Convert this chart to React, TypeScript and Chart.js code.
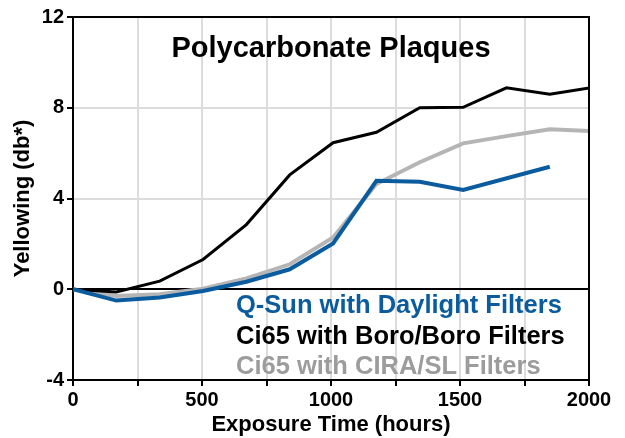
import React, { useEffect, useRef } from "react";
import { Chart, registerables } from "chart.js";

Chart.register(...registerables);

const hours = [0, 168, 336, 504, 672, 840, 1008, 1176, 1344, 1512, 1680, 1848, 2016];
const qsunDaylight = [0, -0.5, -0.36, -0.08, 0.33, 0.88, 2.02, 4.78, 4.74, 4.38, null, 5.4, null];
const ci65BoroBoro = [0, -0.12, 0.36, 1.31, 2.85, 5.04, 6.46, 6.92, 8.0, 8.02, 8.88, 8.6, 8.9];
const ci65CiraSl = [0, -0.3, -0.22, 0.02, 0.48, 1.1, 2.28, 4.64, 5.6, 6.43, 6.75, 7.05, 6.97];

const seriesLabels = [
  "Q-Sun with Daylight Filters",
  "Ci65 with Boro/Boro Filters",
  "Ci65 with CIRA/SL Filters",
];
const chartTitle = "Polycarbonate Plaques";
const xTitle = "Exposure Time (hours)";
const yTitle = "Yellowing (db*)";

const BLUE = "#0a5c9e";
const BLACK = "#000000";
const GRAY_LINE = "#b5b5b5";
const GRAY_TEXT = "#9c9c9c";
const GRID = "#dcdcdc";
const FONT = "'Liberation Sans', Arial, Helvetica, sans-serif";

const overlay = {
  id: "overlay",
  afterDraw(chart: any) {
    const { ctx, chartArea } = chart;
    const { left, right, top, bottom } = chartArea;
    ctx.save();
    ctx.strokeStyle = "#000";
    ctx.lineWidth = 2;
    ctx.beginPath();
    ctx.moveTo(left, top);
    ctx.lineTo(right, top);
    ctx.lineTo(right, bottom);
    ctx.stroke();

    ctx.fillStyle = "#000";
    ctx.font = `bold 29px ${FONT}`;
    ctx.textAlign = "center";
    ctx.textBaseline = "alphabetic";
    ctx.fillText(chartTitle, (left + right) / 2, 57);

    const colors = [BLUE, BLACK, GRAY_TEXT];
    const baselines = [313, 344, 374];
    ctx.font = `bold 25.5px ${FONT}`;
    ctx.textAlign = "left";
    seriesLabels.forEach((t, i) => {
      ctx.fillStyle = colors[i];
      ctx.fillText(t, 236, baselines[i]);
    });
    ctx.restore();
  },
};

export default function App() {
  const ref = useRef<HTMLCanvasElement>(null);
  useEffect(() => {
    document.body.style.margin = "0";
    const canvas = ref.current!;
    const chart = new Chart(canvas, {
      type: "line",
      data: {
        labels: hours,
        datasets: [
          {
            label: seriesLabels[0],
            data: hours.map((h, i) => ({ x: h, y: qsunDaylight[i] })) as any,
            borderColor: BLUE,
            borderWidth: 4,
            pointRadius: 0,
            spanGaps: true,
            tension: 0,
          },
          {
            label: seriesLabels[1],
            data: hours.map((h, i) => ({ x: h, y: ci65BoroBoro[i] })) as any,
            borderColor: BLACK,
            borderWidth: 3,
            pointRadius: 0,
            tension: 0,
          },
          {
            label: seriesLabels[2],
            data: hours.map((h, i) => ({ x: h, y: ci65CiraSl[i] })) as any,
            borderColor: GRAY_LINE,
            borderWidth: 4,
            pointRadius: 0,
            tension: 0,
          },
        ],
      },
      options: {
        responsive: false,
        animation: false,
        devicePixelRatio: 1,
        layout: { padding: { top: 17, right: 36, left: 0, bottom: 0 } },
        plugins: {
          legend: { display: false },
          tooltip: { enabled: false },
          title: { display: false },
        },
        scales: {
          x: {
            type: "linear",
            min: 0,
            max: 2000,
            afterFit: (s: any) => {
              s.height = 58;
            },
            ticks: {
              stepSize: 250,
              autoSkip: false,
              maxRotation: 0,
              color: "#000",
              padding: 2,
              font: { family: FONT, size: 20, weight: "bold" },
              callback: (v: any) => (Number(v) % 500 === 0 ? String(v) : ""),
            },
            grid: {
              color: GRID,
              lineWidth: 2,
              tickColor: "#000",
              tickLength: 6,
              drawTicks: true,
            },
            border: { color: "#000", width: 2 },
            title: {
              display: true,
              text: xTitle,
              color: "#000",
              font: { family: FONT, size: 22, weight: "bold" },
              padding: { top: 0, bottom: 0 },
            },
          },
          y: {
            min: -4,
            max: 12,
            afterFit: (s: any) => {
              s.width = 73;
            },
            ticks: {
              stepSize: 4,
              color: "#000",
              padding: 3,
              font: { family: FONT, size: 20, weight: "bold" },
            },
            grid: {
              color: (c: any) => (c.tick && c.tick.value === 0 ? "#000" : GRID),
              lineWidth: 2,
              tickColor: "#000",
              tickLength: 6,
            },
            border: { color: "#000", width: 2 },
            title: {
              display: true,
              text: yTitle,
              color: "#000",
              font: { family: FONT, size: 22, weight: "bold" },
              padding: { top: 10, bottom: 0 },
            },
          },
        },
      },
      plugins: [overlay],
    });
    return () => chart.destroy();
  }, []);
  return (
    <div style={{ width: 625, height: 438 }}>
      <canvas ref={ref} width={625} height={438} style={{ display: "block" }} />
    </div>
  );
}
